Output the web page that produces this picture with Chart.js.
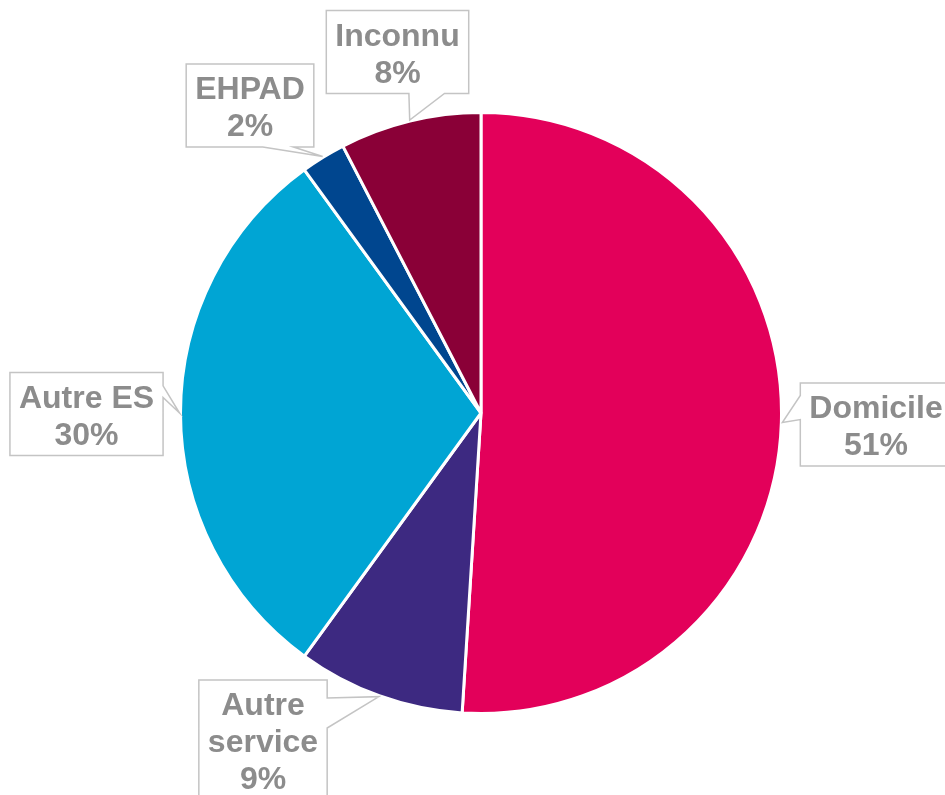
<!DOCTYPE html>
<html>
<head>
<meta charset="utf-8">
<title>Provenance</title>
<script src="https://cdn.jsdelivr.net/npm/chart.js@4"></script>
<style>
  body { margin: 0; background: #fff; }
  #wrap { width: 945px; height: 795px; position: relative; }
</style>
</head>
<body>
<div id="wrap"><canvas id="pie"></canvas></div>
<script>
// data
var categories = ['Domicile', 'Autre service', 'Autre ES', 'EHPAD', 'Inconnu'];
var shares = [51, 9, 30, 2.4, 7.6];
var colours = ['#E3005A', '#3D2981', '#00A5D4', '#00468F', '#8A0037'];

// callout boxes: centre offset from pie centre, edge the pointer leaves from,
// and where along that edge (fractions) the pointer base sits
var callouts = [
  { dx: 395, dy: 11.5, side: 'left',   from: 0.15, to: 0.44, lines: ['Domicile'] },
  { dx: -218, dy: 327, side: 'right', from: 0.15, to: 0.40, lines: ['Autre', 'service'] },
  { dx: -394.5, dy: 1, side: 'right', from: 0.16, to: 0.30, lines: ['Autre ES'] },
  { dx: -231, dy: -307.5, side: 'bottom', from: 0.60, to: 0.84, lines: ['EHPAD'] },
  { dx: -83.5, dy: -361, side: 'bottom', from: 0.58, to: 0.83, lines: ['Inconnu'] }
];

var calloutPlugin = {
  id: 'callouts',
  afterDatasetsDraw: function (chart) {
    var ctx = chart.ctx;
    var arcs = chart.getDatasetMeta(0).data;
    var total = shares.reduce(function (a, b) { return a + b; }, 0);
    ctx.save();
    ctx.font = 'bold 32px "Liberation Sans", Arial, sans-serif';
    arcs.forEach(function (arc, i) {
      var c = callouts[i];
      var pct = Math.round(shares[i] / total * 100) + '%';
      var lines = c.lines.concat([pct]);
      var mid = (arc.startAngle + arc.endAngle) / 2;
      var tipX = arc.x + Math.cos(mid) * (arc.outerRadius + 1);
      var tipY = arc.y + Math.sin(mid) * (arc.outerRadius + 1);
      var w = 0;
      lines.forEach(function (l) { w = Math.max(w, ctx.measureText(l).width); });
      w += 18;
      var lh = 37;
      var h = lines.length * lh + 9;
      var cx = arc.x + c.dx, cy = arc.y + c.dy;
      var l = cx - w / 2, t = cy - h / 2, r = l + w, b = t + h;

      ctx.beginPath();
      ctx.moveTo(l, t);
      if (c.side === 'left') {
        ctx.lineTo(r, t); ctx.lineTo(r, b); ctx.lineTo(l, b);
        ctx.lineTo(l, t + h * c.to); ctx.lineTo(tipX, tipY); ctx.lineTo(l, t + h * c.from);
      } else if (c.side === 'right') {
        ctx.lineTo(r, t); ctx.lineTo(r, t + h * c.from); ctx.lineTo(tipX, tipY);
        ctx.lineTo(r, t + h * c.to); ctx.lineTo(r, b); ctx.lineTo(l, b);
      } else {
        ctx.lineTo(r, t); ctx.lineTo(r, b); ctx.lineTo(l + w * c.to, b);
        ctx.lineTo(tipX, tipY); ctx.lineTo(l + w * c.from, b); ctx.lineTo(l, b);
      }
      ctx.closePath();
      ctx.fillStyle = '#fff';
      ctx.fill();
      ctx.strokeStyle = '#C4C4C4';
      ctx.lineWidth = 1.5;
      ctx.stroke();

      ctx.fillStyle = '#8C8C8C';
      ctx.textAlign = 'center';
      ctx.textBaseline = 'alphabetic';
      lines.forEach(function (txt, k) {
        ctx.fillText(txt, cx, t + 35 + lh * k);
      });
    });
    ctx.restore();
  }
};

var ctx = document.getElementById('pie').getContext('2d');
new Chart(ctx, {
  type: 'pie',
  data: {
    labels: categories,
    datasets: [{
      data: shares,
      backgroundColor: colours,
      borderColor: '#fff',
      borderWidth: 3
    }]
  },
  options: {
    responsive: true,
    maintainAspectRatio: false,
    animation: false,
    layout: { padding: { left: 179, right: 162, top: 111, bottom: 80 } },
    plugins: {
      legend: { display: false },
      tooltip: { enabled: false }
    }
  },
  plugins: [calloutPlugin]
});
</script>
</body>
</html>
